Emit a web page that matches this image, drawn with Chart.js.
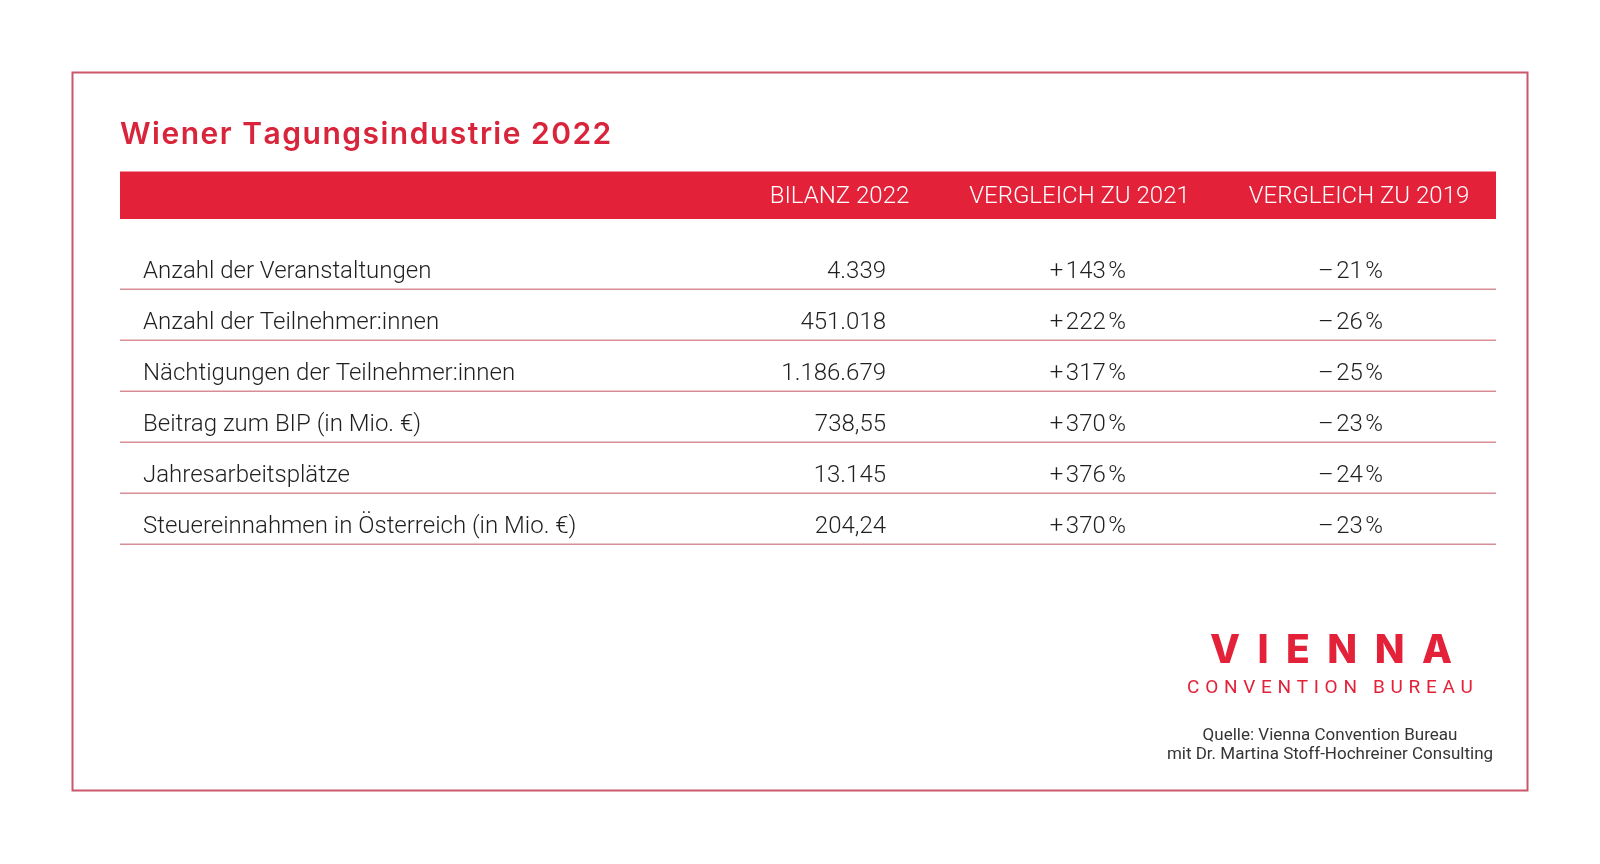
<!DOCTYPE html>
<html>
<head>
<meta charset="utf-8">
<script src="https://cdn.jsdelivr.net/npm/chart.js@4.4.1/dist/chart.umd.min.js"></script>
<style>
  html, body { margin: 0; padding: 0; background: #ffffff; }
  #wrap { width: 1600px; height: 864px; }
</style>
</head>
<body>
<div id="wrap"><canvas id="c" width="1600" height="864"></canvas></div>
<script>
// ---------- DATA ----------
const titleText = 'Wiener Tagungsindustrie 2022';
const columnHeaders = ['BILANZ 2022', 'VERGLEICH ZU 2021', 'VERGLEICH ZU 2019'];
const rowLabels = [
  'Anzahl der Veranstaltungen',
  'Anzahl der Teilnehmer:innen',
  'Nächtigungen der Teilnehmer:innen',
  'Beitrag zum BIP (in Mio. €)',
  'Jahresarbeitsplätze',
  'Steuereinnahmen in Österreich (in Mio. €)'
];
const bilanz2022 = [4339, 451018, 1186679, 738.55, 13145, 204.24];
const bilanzDecimals = [0, 0, 0, 2, 0, 2];
const changeVs2021 = [143, 222, 317, 370, 376, 370];
const changeVs2019 = [-21, -26, -25, -23, -24, -23];
const logoLines = ['VIENNA', 'CONVENTION BUREAU'];
const sourceLines = ['Quelle: Vienna Convention Bureau', 'mit Dr. Martina Stoff-Hochreiner Consulting'];

// ---------- FORMATTERS ----------
function fmtDe(v, dec) {
  const parts = v.toFixed(dec).split('.');
  parts[0] = parts[0].replace(/\B(?=(\d{3})+(?!\d))/g, '.');
  return parts.join(',');
}
function fmtPct(v) {
  return (v >= 0 ? '+' : '\u2013') + '\u200A' + Math.abs(v) + '\u200A%';
}
const columnValues = [
  bilanz2022.map((v, i) => fmtDe(v, bilanzDecimals[i])),
  changeVs2021.map(fmtPct),
  changeVs2019.map(fmtPct)
];

// ---------- STYLE / LAYOUT ----------
const RED = '#e3223a';
const TITLE_RED = '#d9253b';
const LINE_COLOR = '#d98d96';
const FRAME_COLOR = '#c9586a';
const TEXT_COLOR = '#1f1f1f';
const BODY_FONT = 'Roboto, "Open Sans", sans-serif';
const colLayout = [            // header centre x, value right edge x
  { head: 839.5, right: 886 },
  { head: 1079.5, right: 1126 },
  { head: 1359, right: 1383 }
];

function drawSpaced(ctx, text, x0, baseline, font, spacing, color, align) {
  ctx.save();
  ctx.font = font;
  ctx.fillStyle = color;
  ctx.textAlign = 'left';
  ctx.textBaseline = 'alphabetic';
  const chars = Array.from(text);
  const widths = chars.map(c => ctx.measureText(c).width);
  const total = widths.reduce((s, w) => s + w, 0) + spacing * (chars.length - 1);
  let x = align === 'left' ? x0 : x0 - total / 2;
  chars.forEach((c, i) => { ctx.fillText(c, x, baseline); x += widths[i] + spacing; });
  ctx.restore();
}

const deco = {
  id: 'deco',
  beforeDraw(chart) {
    const { ctx, chartArea: a } = chart;
    ctx.save();
    ctx.fillStyle = '#ffffff';
    ctx.fillRect(0, 0, chart.width, chart.height);
    // frame
    ctx.strokeStyle = FRAME_COLOR;
    ctx.lineWidth = 2;
    ctx.strokeRect(72.5, 72.5, 1455, 718);
    // title
    drawSpaced(ctx, titleText, a.left, 144, '600 30px Inter, Roboto, sans-serif', 1.5, TITLE_RED, 'left');
    // header bar
    ctx.fillStyle = RED;
    ctx.fillRect(a.left, 171.5, a.right - a.left, 47.5);
    ctx.fillStyle = '#ffffff';
    ctx.font = '300 24px ' + BODY_FONT;
    ctx.textAlign = 'center';
    ctx.textBaseline = 'alphabetic';
    columnHeaders.forEach((h, j) => ctx.fillText(h, colLayout[j].head, 203));
    ctx.restore();
  },
  afterDraw(chart) {
    const { ctx, chartArea: a } = chart;
    const y = chart.scales.y;
    const pitch = Math.abs(y.getPixelForValue(1) - y.getPixelForValue(0));
    ctx.save();
    // row separator lines
    ctx.strokeStyle = LINE_COLOR;
    ctx.lineWidth = 1.5;
    rowLabels.forEach((_, i) => {
      const ly = Math.round(y.getPixelForValue(i) + pitch * 0.333) + 0.25;
      ctx.beginPath();
      ctx.moveTo(a.left, ly);
      ctx.lineTo(a.right, ly);
      ctx.stroke();
    });
    // values
    ctx.fillStyle = TEXT_COLOR;
    ctx.font = '300 24px ' + BODY_FONT;
    ctx.textAlign = 'right';
    ctx.textBaseline = 'middle';
    columnValues.forEach((col, j) => {
      col.forEach((txt, i) => ctx.fillText(txt, colLayout[j].right, y.getPixelForValue(i)));
    });
    // logo
    drawSpaced(ctx, logoLines[0], 1331, 663, '800 39px Inter, Roboto, sans-serif', 17.5, RED);
    drawSpaced(ctx, logoLines[1], 1330, 693, '400 19px Roboto, sans-serif', 5.7, RED);
    // source
    ctx.fillStyle = '#353535';
    ctx.font = '400 17px ' + BODY_FONT;
    ctx.textAlign = 'center';
    ctx.textBaseline = 'alphabetic';
    ctx.fillText(sourceLines[0], 1330, 740);
    ctx.fillText(sourceLines[1], 1330, 759);
    ctx.restore();
  }
};

new Chart(document.getElementById('c'), {
  type: 'bar',
  data: { labels: rowLabels, datasets: [] },
  options: {
    responsive: false,
    animation: false,
    indexAxis: 'y',
    layout: { padding: { left: 120, right: 104, top: 246.8, bottom: 311.2 } },
    plugins: {
      legend: { display: false },
      tooltip: { enabled: false },
      title: { display: false }
    },
    scales: {
      x: { display: false },
      y: {
        type: 'category',
        offset: true,
        afterFit(scale) { scale.width = 0; },
        grid: { display: false, drawTicks: false },
        border: { display: false },
        ticks: {
          mirror: true,
          padding: 23,
          color: TEXT_COLOR,
          font: { family: BODY_FONT, size: 24, weight: '300' }
        }
      }
    }
  },
  plugins: [deco]
});
</script>
</body>
</html>
